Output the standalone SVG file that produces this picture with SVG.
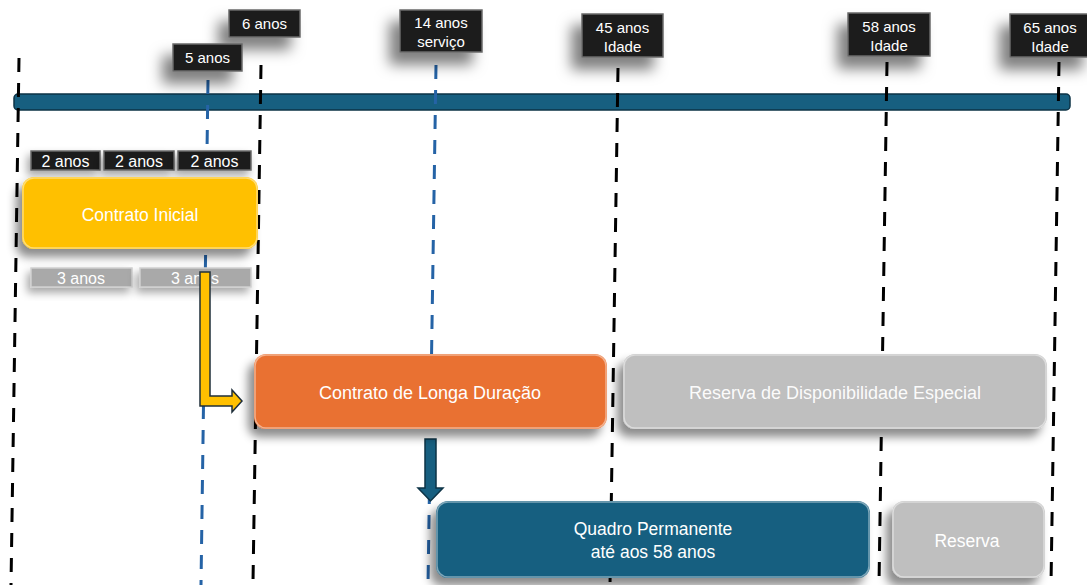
<svg xmlns="http://www.w3.org/2000/svg" width="1087" height="585" viewBox="0 0 1087 585">
<defs>
<filter id="sh" x="-30%" y="-40%" width="160%" height="200%">
<feDropShadow dx="-6" dy="8" stdDeviation="5" flood-color="#000" flood-opacity="0.45"/>
</filter>
<filter id="shl" x="-60%" y="-80%" width="200%" height="300%">
<feDropShadow dx="-10" dy="12" stdDeviation="7" flood-color="#000" flood-opacity="0.5"/>
</filter>
<filter id="shs" x="-20%" y="-50%" width="140%" height="220%">
<feDropShadow dx="-3" dy="5" stdDeviation="4" flood-color="#000" flood-opacity="0.35"/>
</filter>
</defs>
<style>
.t{font-family:"Liberation Sans",Arial,sans-serif;fill:#fff;text-anchor:middle}
.lbl{fill:#1c1c1c;stroke:#6a6a6a;stroke-width:1.5}
.bl{stroke:#000;stroke-width:3;stroke-dasharray:14 11;fill:none}
.bu{stroke:#2563a6;stroke-width:3;stroke-dasharray:14 11;fill:none}
.hl{fill:none;stroke:#fff;stroke-opacity:0.45;stroke-width:1.5}
</style>
<rect x="14" y="94" width="1056" height="16" rx="4" fill="#175f80" stroke="#0d3346" stroke-width="1.5"/>
<g id="connectors">
<line class="bl" x1="19" y1="58" x2="11" y2="585"/>
<line class="bl" x1="261" y1="65" x2="253" y2="582"/>
<line class="bl" x1="618" y1="68" x2="610" y2="585"/>
<line class="bl" x1="887" y1="62" x2="879" y2="585"/>
<line class="bl" x1="1059" y1="62" x2="1051" y2="585"/>
<line class="bu" x1="208" y1="80" x2="201" y2="585"/>
<line class="bu" x1="436" y1="65" x2="428" y2="585"/>
</g>
<g id="lbl6">
<rect class="lbl" x="229" y="10" width="71" height="27" filter="url(#shl)"/>
<text class="t" x="264.5" y="29" font-size="15">6 anos</text>
</g>
<g id="lbl5">
<rect class="lbl" x="173" y="44" width="69" height="27" filter="url(#shl)"/>
<text class="t" x="207.5" y="63" font-size="15">5 anos</text>
</g>
<g id="lbl14">
<rect class="lbl" x="400" y="10" width="82" height="42" filter="url(#shl)"/>
<text class="t" x="441" y="28" font-size="15">14 anos</text>
<text class="t" x="441" y="47" font-size="15">serviço</text>
</g>
<g id="lbl45">
<rect class="lbl" x="582" y="14" width="81" height="43" filter="url(#shl)"/>
<text class="t" x="622.5" y="33" font-size="15">45 anos</text>
<text class="t" x="622.5" y="52" font-size="15">Idade</text>
</g>
<g id="lbl58">
<rect class="lbl" x="848" y="13" width="82" height="43" filter="url(#shl)"/>
<text class="t" x="889" y="32" font-size="15">58 anos</text>
<text class="t" x="889" y="51" font-size="15">Idade</text>
</g>
<g id="lbl65">
<rect class="lbl" x="1010" y="14" width="82" height="43" filter="url(#shl)"/>
<text class="t" x="1050" y="33" font-size="15">65 anos</text>
<text class="t" x="1050" y="52" font-size="15">Idade</text>
</g>
<g id="seg2a">
<rect class="lbl" x="31" y="151" width="69" height="19" filter="url(#shs)"/>
<text class="t" x="65.5" y="166.5" font-size="16">2 anos</text>
</g>
<g id="seg2b">
<rect class="lbl" x="104" y="151" width="70" height="19" filter="url(#shs)"/>
<text class="t" x="139" y="166.5" font-size="16">2 anos</text>
</g>
<g id="seg2c">
<rect class="lbl" x="178" y="151" width="73" height="19" filter="url(#shs)"/>
<text class="t" x="214.5" y="166.5" font-size="16">2 anos</text>
</g>
<g id="contratoInicial">
<rect x="22" y="177" width="236" height="72" rx="12" fill="#ffc000" filter="url(#sh)"/>
<rect class="hl" x="23" y="178" width="234" height="70" rx="11"/>
<text class="t" x="140" y="221" font-size="17.5">Contrato Inicial</text>
</g>
<g id="seg3a">
<rect x="31" y="268" width="101" height="19" fill="#a9a9a9" stroke="#d0d0d0" stroke-width="1.5" filter="url(#shs)"/>
<text class="t" x="81" y="283.5" font-size="16">3 anos</text>
</g>
<g id="seg3b">
<rect x="140" y="268" width="111" height="19" fill="#a9a9a9" stroke="#d0d0d0" stroke-width="1.5" filter="url(#shs)"/>
<text class="t" x="195" y="283.5" font-size="16">3 anos</text>
</g>
<g id="arrows">
<path d="M200,272 L210,272 L210,396 L232,396 L232,390 L242,401 L232,412 L232,406 L200,406 Z" fill="#ffc000" stroke="#1f2f3a" stroke-width="1.5" stroke-linejoin="miter"/>
<path d="M425,439 L436,439 L436,488 L443,488 L430.5,501 L418,488 L425,488 Z" fill="#175f80" stroke="#0d3346" stroke-width="1.5"/>
</g>
<g id="longaDuracao">
<rect x="254" y="354" width="353" height="75" rx="12" fill="#e97132" filter="url(#sh)"/>
<rect class="hl" x="255" y="355" width="351" height="73" rx="11"/>
<text class="t" x="430" y="399" font-size="18">Contrato de Longa Duração</text>
</g>
<g id="reservaDisp">
<rect x="623" y="354" width="424" height="75" rx="12" fill="#bfbfbf" filter="url(#sh)"/>
<rect class="hl" x="624" y="355" width="422" height="73" rx="11"/>
<text class="t" x="835" y="399" font-size="18" fill-opacity="0.95">Reserva de Disponibilidade Especial</text>
</g>
<g id="quadro">
<rect x="436" y="501" width="434" height="77" rx="12" fill="#175f80" filter="url(#sh)"/>
<rect class="hl" x="437" y="502" width="432" height="75" rx="11"/>
<text class="t" x="653" y="535" font-size="17.5">Quadro Permanente</text>
<text class="t" x="653" y="558" font-size="17.5">até aos 58 anos</text>
</g>
<g id="reserva">
<rect x="892" y="501" width="153" height="77" rx="12" fill="#bfbfbf" filter="url(#sh)"/>
<rect class="hl" x="893" y="502" width="151" height="75" rx="11"/>
<text class="t" x="967" y="547" font-size="17.5">Reserva</text>
</g>
</svg>
